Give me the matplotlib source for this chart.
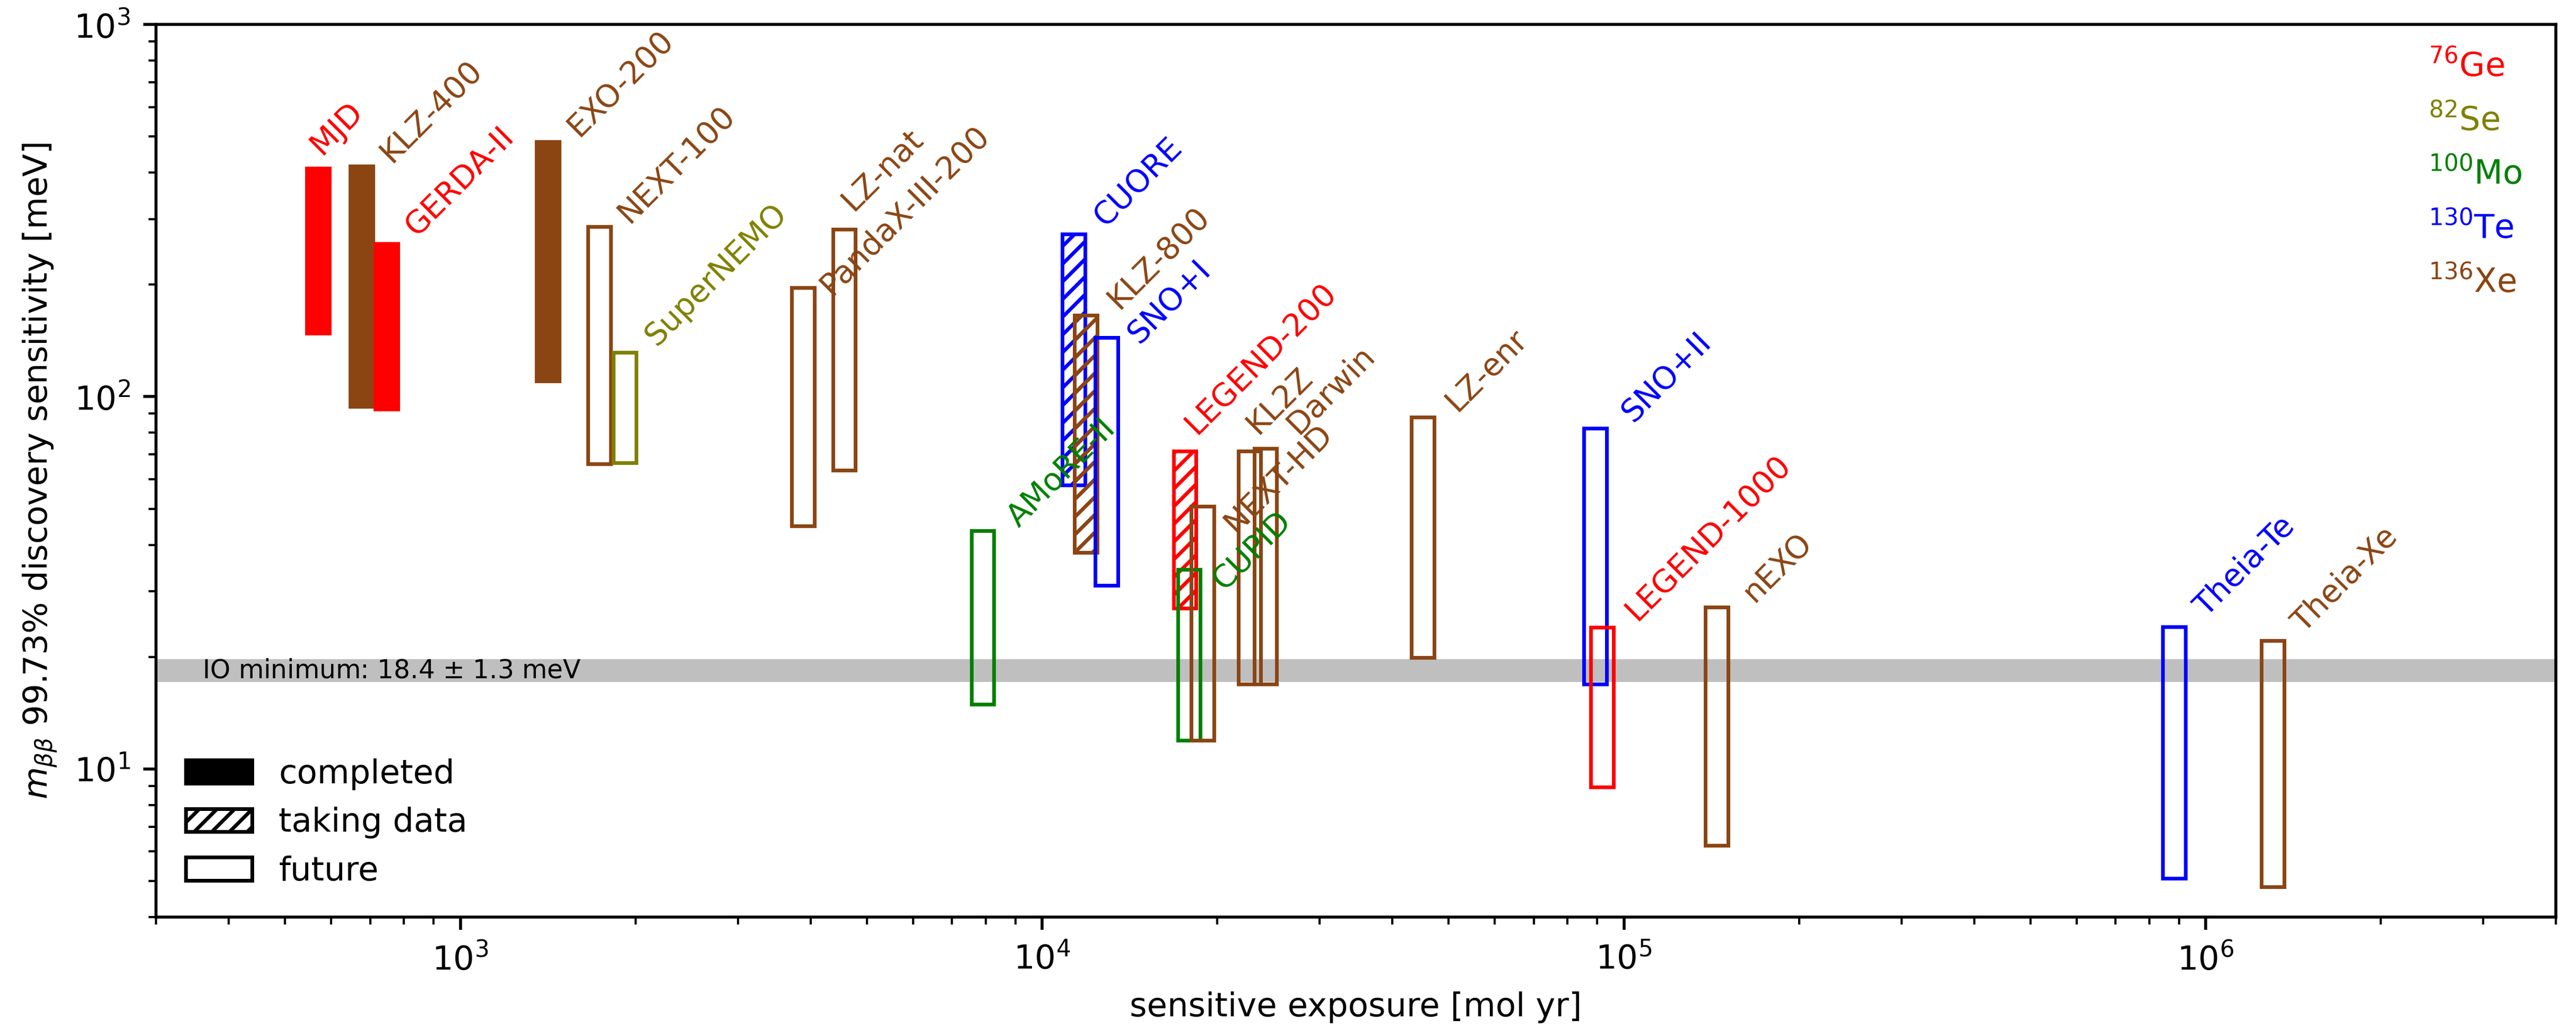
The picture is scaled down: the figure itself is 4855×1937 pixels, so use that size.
import numpy as np
import matplotlib
matplotlib.use('Agg')
import matplotlib.pyplot as plt
from matplotlib.patches import Patch

# experiments: exposure [mol yr], sensitivity range [meV], isotope, status
names = ['MJD', 'KLZ-400', 'GERDA-II', 'EXO-200', 'NEXT-100', 'SuperNEMO',
         'LZ-nat', 'PandaX-III-200', 'AMoRE-II', 'CUORE', 'KLZ-800', 'SNO+I',
         'LEGEND-200', 'CUPID', 'NEXT-HD', 'KL2Z', 'Darwin', 'LZ-enr',
         'SNO+II', 'LEGEND-1000', 'nEXO', 'Theia-Te', 'Theia-Xe']
exposure = [570, 677, 747, 1416, 1734, 1919,
            4573, 3890, 7912, 11340, 11910, 12910,
            17610, 17910, 18910, 22750, 24230, 45160,
            89440, 91840, 144600, 884000, 1306000]
m_low = [148, 94, 92.6, 110, 65.9, 66.5,
         63.5, 45, 14.9, 57.8, 38.2, 31.1,
         27.0, 11.95, 11.95, 16.9, 16.9, 19.9,
         16.9, 8.93, 6.24, 5.09, 4.82]
m_high = [411, 416, 258, 484, 286, 131.6,
          282, 196, 43.6, 273, 165.6, 144.3,
          71.4, 34.3, 50.7, 71.5, 72.7, 88.0,
          82.3, 24.0, 27.2, 24.1, 22.1]
isotope = ['Ge', 'Xe', 'Ge', 'Xe', 'Xe', 'Se',
           'Xe', 'Xe', 'Mo', 'Te', 'Xe', 'Te',
           'Ge', 'Mo', 'Xe', 'Xe', 'Xe', 'Xe',
           'Te', 'Ge', 'Xe', 'Te', 'Xe']
status = ['completed', 'completed', 'completed', 'completed', 'future', 'future',
          'future', 'future', 'future', 'taking', 'taking', 'future',
          'taking', 'future', 'future', 'future', 'future', 'future',
          'future', 'future', 'future', 'future', 'future']

iso_names = ['Ge', 'Se', 'Mo', 'Te', 'Xe']
iso_mass = [76, 82, 100, 130, 136]
io_min, io_err = 18.4, 1.3

# styles
iso_color = {'Ge': '#ff0000', 'Se': '#808000', 'Mo': '#008000', 'Te': '#0000ff', 'Xe': '#8b4513'}
# label offsets in points (hand placed)
label_off = [(-6.7, 2.1), (0.5, -0.5), (0.5, 0.5), (0.7, -0.1), (0.4, -0.5), (0.8, 0.2),
             (-5.3, 3.4), (-0.1, -3.5), (2.1, -0.5), (0.9, 0.7), (1.2, 0.1), (1.1, -3.2),
             (-4.5, 3.0), (1.8, -7.0), (1.1, -8.7), (-5.5, 3.0), (1.2, 2.2), (1.5, 0.1),
             (2.5, 0.2), (1.7, 0.4), (2.4, -0.1), (0.9, 1.2), (0.7, 0.7)]

plt.rcParams['font.size'] = 9
fig = plt.figure(figsize=(4855/500, 1937/500), dpi=500)
ax = fig.add_axes([0.0606, 0.1079, 0.9316, 0.8684])
ax.set_xscale('log')
ax.set_yscale('log')

ax.axhspan(io_min - io_err, io_min + io_err, color='#bfbfbf', lw=0, zorder=0)
ax.text(360, io_min, 'IO minimum: %.1f $\\pm$ %.1f meV' % (io_min, io_err),
        fontsize=7, va='center', ha='left')

for i in range(len(names)):
    x = exposure[i]
    c = iso_color[isotope[i]]
    if status[i] == 'completed':
        kw = dict(facecolor=c, edgecolor=c)
    elif status[i] == 'taking':
        kw = dict(facecolor='none', edgecolor=c, hatch='/////')
    else:
        kw = dict(facecolor='none', edgecolor=c)
    ax.bar(x, m_high[i] - m_low[i], bottom=m_low[i], width=0.09 * x,
           align='center', linewidth=1.0, **kw)
    ax.annotate(names[i], xy=(x * 1.045, m_high[i]), xytext=label_off[i],
                textcoords='offset points', rotation=45,
                ha='left', va='bottom', color=c, fontsize=8.5)

for j, (iso, a) in enumerate(zip(iso_names, iso_mass)):
    ax.text(0.947, 0.942 - 0.0605 * j, '$^{%d}$%s' % (a, iso), transform=ax.transAxes,
            color=iso_color[iso], va='baseline', ha='left')

handles = [Patch(facecolor='k', edgecolor='k', label='completed'),
           Patch(facecolor='none', edgecolor='k', hatch='/////', label='taking data'),
           Patch(facecolor='none', edgecolor='k', label='future')]
ax.legend(handles=handles, loc='lower left', frameon=False)

ax.set_xlim(300, 4e6)
ax.set_ylim(4, 1000)
ax.set_xlabel('sensitive exposure [mol yr]')
ax.set_ylabel(r'$m_{\beta\beta}$ 99.73% discovery sensitivity [meV]')

fig.savefig('out.png', dpi=500)
